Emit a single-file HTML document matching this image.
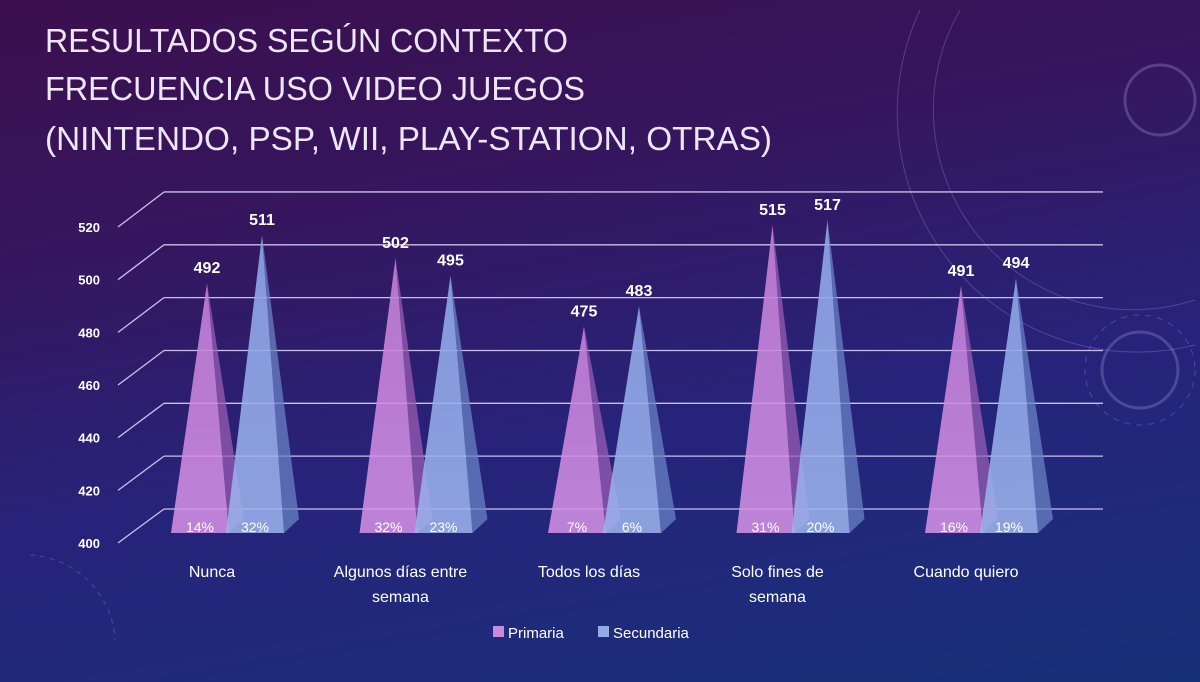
<!DOCTYPE html>
<html><head><meta charset="utf-8"><style>
html,body{margin:0;padding:0;width:1200px;height:682px;overflow:hidden;}
body{font-family:"Liberation Sans",sans-serif;position:relative;}
#bg{position:absolute;left:0;top:0;width:1200px;height:682px;background:linear-gradient(170deg,#3c0f4e 0%,#35165e 30%,#27237a 60%,#17307a 100%);}
</style></head><body>
<div id="bg"></div>
<svg id="chart" width="1200" height="682" style="position:absolute;left:0;top:0;display:block">
<defs>
<linearGradient id="gp" x1="0" y1="0" x2="0" y2="1"><stop offset="0" stop-color="#c37fd8" stop-opacity="0.9"/><stop offset="1" stop-color="#d893e8" stop-opacity="0.85"/></linearGradient>
<linearGradient id="gb" x1="0" y1="0" x2="0" y2="1"><stop offset="0" stop-color="#8da6e8" stop-opacity="0.9"/><stop offset="1" stop-color="#9fb5ef" stop-opacity="0.85"/></linearGradient>
</defs>
<g fill="none" stroke="#a99bd6" stroke-opacity="0.3">
<path d="M960,10 A200,200 0 0 0 1195,300"/><path d="M920,10 A240,240 0 0 0 1195,345"/>
<circle cx="1160" cy="100" r="35" stroke-width="3"/>
<circle cx="1140" cy="370" r="55" stroke-dasharray="6 6"/><circle cx="1140" cy="370" r="38" stroke-width="3"/>
<path d="M30,555 A90,90 0 0 1 115,640" stroke-dasharray="5 5"/>
</g>
<g fill="#ece6f6" font-size="33" font-family="Liberation Sans, sans-serif">
<text x="45" y="52" textLength="523" lengthAdjust="spacingAndGlyphs">RESULTADOS SEGÚN CONTEXTO</text>
<text x="45" y="100" textLength="540" lengthAdjust="spacingAndGlyphs">FRECUENCIA USO VIDEO JUEGOS</text>
<text x="45" y="150" textLength="727" lengthAdjust="spacingAndGlyphs">(NINTENDO, PSP, WII, PLAY-STATION, OTRAS)</text>
</g>
<g id="grid"></g><g id="marks"></g><g id="labels"></g>
<g font-size="15" fill="#fff">
<rect x="493" y="626" width="11" height="11" fill="#c98ade"/>
<text x="508" y="638">Primaria</text>
<rect x="598" y="626" width="11" height="11" fill="#94aae6"/>
<text x="613" y="638">Secundaria</text>
</g>
</svg>
<script>
const categories=[["Nunca"],["Algunos días entre","semana"],["Todos los días"],["Solo fines de","semana"],["Cuando quiero"]];
const primaria=[492,502,475,515,491];
const secundaria=[511,495,483,517,494];
const pctPrimaria=["14%","32%","7%","31%","16%"];
const pctSecundaria=["32%","23%","6%","20%","19%"];
const ticks=[400,420,440,460,480,500,520];
const NS="http://www.w3.org/2000/svg";
function mk(t,a,p){const e=document.createElementNS(NS,t);for(const k in a)e.setAttribute(k,a[k]);p.appendChild(e);return e;}
const frontY=v=>543-(v-400)*2.633;
const backY=v=>509-(v-400)*2.642;
const apexY=v=>516-(v-400)*2.53;
const xP=i=>207+188.5*i;
const grid=document.getElementById('grid'),marks=document.getElementById('marks'),labels=document.getElementById('labels');
ticks.forEach(t=>{
 const l=mk('line',{x1:118,y1:frontY(t),x2:164,y2:backY(t),stroke:'#c9c0ee','stroke-width':1.3},grid);
 
 const h=mk('line',{x1:164,y1:backY(t),x2:1103,y2:backY(t),stroke:'#c9c0ee','stroke-width':1.3},grid);
 
 const tx=mk('text',{x:100,y:frontY(t)+5,'text-anchor':'end','font-size':13,'font-weight':'bold',fill:'#fff'},grid);
 tx.textContent=t;
});
function pyr(ax,v,fill,side,name,val,pct){
 const ay=apexY(v),by=533;
 const g=mk('g',{},marks);
 mk('polygon',{points:`${ax},${ay} ${ax+22},${by} ${ax+37},${by-14}`,fill:side,'fill-opacity':0.75},g);
 mk('polygon',{points:`${ax},${ay} ${ax-36},${by} ${ax+22},${by}`,fill:fill},g);
 const vt=mk('text',{x:ax,y:ay-10,'text-anchor':'middle','font-size':16,'font-weight':'bold',fill:'#fff'},labels);
 vt.textContent=val;
 const pt=mk('text',{x:ax-7,y:532,'text-anchor':'middle','font-size':14,fill:'#fff'},labels);
 pt.textContent=pct;
}
categories.forEach((c,i)=>{
 pyr(xP(i),primaria[i],'url(#gp)','#9a5cb4','bar-primaria-'+i,primaria[i],pctPrimaria[i]);
 pyr(xP(i)+55,secundaria[i],'url(#gb)','#6a82c4','bar-secundaria-'+i,secundaria[i],pctSecundaria[i]);
 c.forEach((ln,j)=>{
  const t=mk('text',{x:xP(i)+5,y:577+j*25,'text-anchor':'middle','font-size':16,fill:'#fff'},labels);
  t.textContent=ln;
 });
});
</script>
</body></html>
